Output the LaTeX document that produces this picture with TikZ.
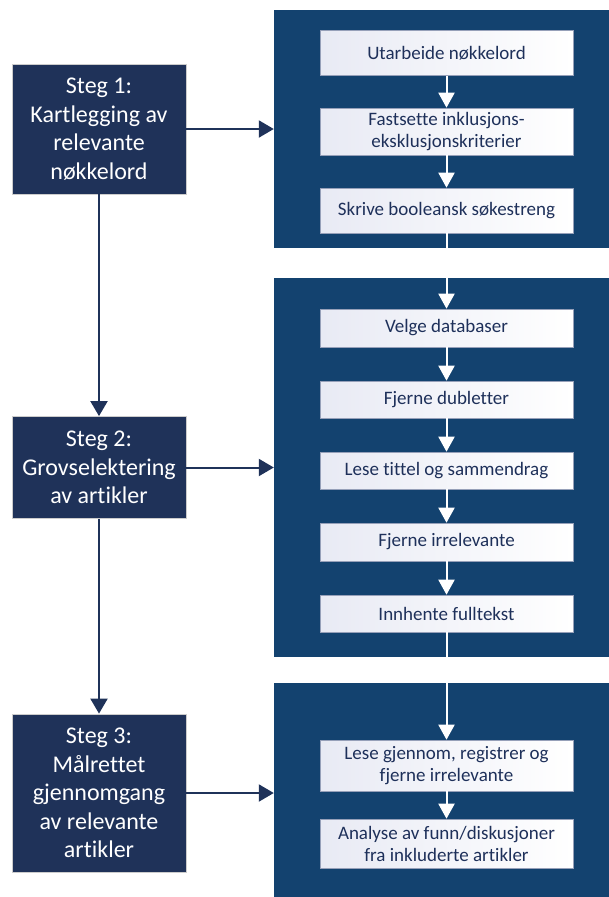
\documentclass[tikz,border=0pt]{standalone}
\usepackage{fontspec}
\setmainfont{Carlito}[Ligatures=NoCommon]
\usetikzlibrary{arrows.meta}

\definecolor{navy}{RGB}{31,50,89}
\definecolor{panelblue}{RGB}{19,66,111}
\definecolor{boxshade}{RGB}{232,234,244}
\definecolor{boxline}{RGB}{150,160,185}
\definecolor{tasktext}{RGB}{30,48,90}

\tikzset{
  stegbox/.style={draw=gray!40, line width=0.8pt, fill=navy, text=white,
    minimum width=174pt, align=center, inner sep=0pt,
    font=\fontsize{24}{28.5}\selectfont},
  panel/.style={fill=panelblue, minimum width=335pt, inner sep=0pt},
  taskbox/.style={draw=boxline, line width=0.6pt, left color=boxshade, right color=white,
    text=tasktext, minimum width=253pt, align=center, inner sep=0pt,
    font=\fontsize{19}{22}\selectfont},
  navyarrow/.style={draw=navy, line width=2pt, -{Triangle[width=17pt,length=15pt]}},
  whitearrow/.style={draw=white, line width=2pt, -{Triangle[width=16pt,length=15pt]}},
}

\begin{document}
\begin{tikzpicture}[x=1pt,y=-1pt]
  \useasboundingbox (0,0) rectangle (609,897);

  % dark background panels on the right
  \node[panel, minimum height=238pt] (p1) at (441.5,129) {};
  \node[panel, minimum height=379pt] (p2) at (441.5,467.5) {};
  \node[panel, minimum height=214pt] (p3) at (441.5,790) {};

  % main steps
  \node[stegbox, minimum height=130pt] (s1) at (99,129)
    {Steg 1:\\Kartlegging av\\relevante\\nøkkelord};
  \node[stegbox, minimum height=102pt] (s2) at (99,467.5)
    {Steg 2:\\Grovselektering\\av artikler};
  \node[stegbox, minimum height=158pt] (s3) at (99,793)
    {Steg 3:\\Målrettet\\gjennomgang\\av relevante\\artikler};

  % sub-tasks
  \node[taskbox, minimum height=45.5pt] (b1) at (446.5,52.75) {Utarbeide nøkkelord};
  \node[taskbox, minimum height=47pt] (b2) at (446.5,131.5) {Fastsette inklusjons-\\eksklusjonskriterier};
  \node[taskbox, minimum height=45pt] (b3) at (446.5,210.5) {Skrive booleansk søkestreng};
  \node[taskbox, minimum height=38pt] (b4) at (446.5,328) {Velge databaser};
  \node[taskbox, minimum height=37pt] (b5) at (446.5,399.5) {Fjerne dubletter};
  \node[taskbox, minimum height=37pt] (b6) at (446.5,470.5) {Lese tittel og sammendrag};
  \node[taskbox, minimum height=38pt] (b7) at (446.5,542) {Fjerne irrelevante};
  \node[taskbox, minimum height=37pt] (b8) at (446.5,613.5) {Innhente fulltekst};
  \node[taskbox, minimum height=51pt] (b9) at (446.5,765.5) {Lese gjennom, registrer og\\fjerne irrelevante};
  \node[taskbox, minimum height=49pt] (b10) at (446.5,843.5) {Analyse av funn/diskusjoner\\fra inkluderte artikler};

  % step-to-step flow
  \draw[navyarrow] (s1.south) -- (s2.north);
  \draw[navyarrow] (s2.south) -- (s3.north);

  % steps to their panels
  \draw[navyarrow] (s1.east) -- (s1.east -| p1.west);
  \draw[navyarrow] (s2.east) -- (s2.east -| p2.west);
  \draw[navyarrow] (s3.east) -- (s3.east -| p3.west);

  % task chain
  \draw[whitearrow] (b1.south) -- (b2.north);
  \draw[whitearrow] (b2.south) -- (b3.north);
  \draw[whitearrow] (b3.south) -- (b4.north);
  \draw[whitearrow] (b4.south) -- (b5.north);
  \draw[whitearrow] (b5.south) -- (b6.north);
  \draw[whitearrow] (b6.south) -- (b7.north);
  \draw[whitearrow] (b7.south) -- (b8.north);
  \draw[whitearrow] (b8.south) -- (b9.north);
  \draw[whitearrow] (b9.south) -- (b10.north);
\end{tikzpicture}
\end{document}
